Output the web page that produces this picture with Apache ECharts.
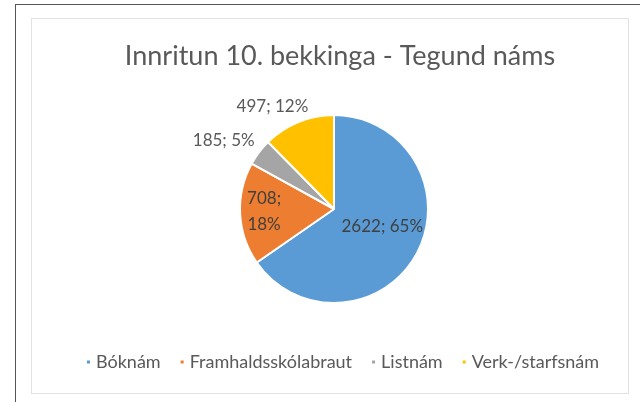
<!DOCTYPE html>
<html>
<head>
<meta charset="utf-8">
<script src="https://cdn.jsdelivr.net/npm/echarts@6/dist/echarts.min.js"></script>
<style>
    html, body { margin: 0; padding: 0; background: #fff; }
    #frame {
        position: absolute; left: 15px; top: 4px; width: 625px; height: 398px;
        border-top: 1px solid #555; border-left: 1px solid #555;
    }
    #box {
        position: absolute; left: 31px; top: 18px; width: 596px; height: 374px;
        border: 1px solid #e2e2e2;
    }
    #chart { position: absolute; left: 0; top: 0; width: 640px; height: 402px; }
</style>
</head>
<body>
<div id="frame"></div>
<div id="box"></div>
<div id="chart"></div>
<script>
    const titleText = "Innritun 10. bekkinga - Tegund náms";
    const categories = ["Bóknám", "Framhaldsskólabraut", "Listnám", "Verk-/starfsnám"];
    const values = [2622, 708, 185, 497];
    const colors = ["#5B9BD5", "#ED7D31", "#A5A5A5", "#FFC000"];
    const labelInside = [true, true, false, false];

    const chart = echarts.init(document.getElementById("chart"));

    // nudges so labels sit where Excel put them
    const labelShift = [[4, -6], [-20, 0], [7, -7], [18, -8]];

    const option = {
        animation: false,
        title: {
            text: titleText,
            left: 335,
            top: 38,
            textAlign: "center",
            textStyle: {
                fontFamily: "Lato",
                fontSize: 27,
                fontWeight: "normal",
                color: "#595959",
            },
        },
        legend: {
            top: 348,
            left: 80,
            icon: "rect",
            itemWidth: 5,
            itemHeight: 5,
            itemGap: 18,
            data: categories,
            textStyle: {
                fontFamily: "Lato",
                fontSize: 18,
                color: "#595959",
            },
        },
        series: [
            {
                type: "pie",
                center: [334, 209],
                radius: 94,
                startAngle: 90,
                clockwise: true,
                percentPrecision: 0,
                itemStyle: { borderColor: "#fff", borderWidth: 2 },
                emphasis: { disabled: true },
                labelLine: { show: false, length: 8, length2: 0 },
                labelLayout: (p) => ({ dx: labelShift[p.dataIndex][0], dy: labelShift[p.dataIndex][1] }),
                data: categories.map((name, i) => ({
                    name,
                    value: values[i],
                    itemStyle: { color: colors[i] },
                    label: {
                        position: labelInside[i] ? "inside" : "outside",
                        color: labelInside[i] ? "#404040" : "#595959",
                    },
                })),
                label: {
                    fontFamily: "Lato",
                    fontSize: 17,
                    lineHeight: 26,
                    formatter: (p) =>
                        p.dataIndex === 1
                            ? p.value + ";\n" + Math.round(p.percent) + "%"
                            : p.value + "; " + Math.round(p.percent) + "%",
                },
            },
        ],
    };

    chart.setOption(option);
</script>
</body>
</html>
